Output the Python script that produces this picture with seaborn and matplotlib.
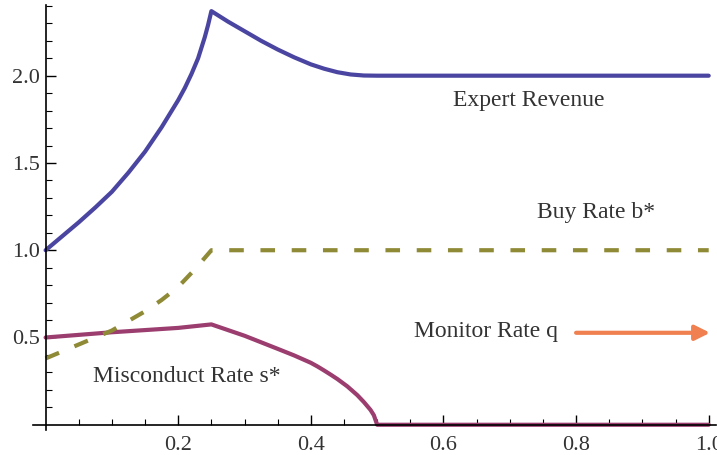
import numpy as np
import pandas as pd
import matplotlib
matplotlib.use("Agg")
import matplotlib.pyplot as plt
import seaborn as sns

# values
rev_x = [0.0, 0.025, 0.05, 0.075, 0.1, 0.125, 0.15, 0.175, 0.2, 0.21, 0.22, 0.23, 0.24,
         0.245, 0.25, 0.275, 0.3, 0.325, 0.35, 0.375, 0.4, 0.42, 0.44, 0.46, 0.48, 0.5, 1.0]
rev_y = [1.0, 1.08, 1.16, 1.245, 1.335, 1.445, 1.565, 1.705, 1.86, 1.93, 2.01, 2.1, 2.22,
         2.29, 2.37, 2.31, 2.255, 2.2, 2.15, 2.105, 2.065, 2.04, 2.02, 2.007, 2.001, 2.0, 2.0]

buy_x = [0.0, 0.05, 0.1, 0.15, 0.175, 0.2, 0.225, 0.25, 1.0]
buy_y = [0.38, 0.46, 0.54, 0.65, 0.715, 0.79, 0.89, 1.0, 1.0]

mis_x = [0.0, 0.1, 0.2, 0.25, 0.3, 0.35, 0.375, 0.4, 0.41, 0.42, 0.43, 0.44, 0.455, 0.47,
         0.48, 0.49, 0.495, 0.5, 1.0]
mis_y = [0.5, 0.53, 0.555, 0.575, 0.51, 0.435, 0.397, 0.355, 0.334, 0.311, 0.287, 0.262,
         0.22, 0.17, 0.13, 0.085, 0.055, 0.0, 0.0]

monitor_x = [0.80, 1.002]
monitor_y = 0.527

labels = ["Expert Revenue", "Buy Rate b*", "Misconduct Rate s*", "Monitor Rate q"]

sns.set_style("white")
plt.rcParams['font.family'] = ['Liberation Serif', 'DejaVu Serif']

fig = plt.figure(figsize=(7.17, 4.55), dpi=100)
ax = fig.add_axes([33 / 717, 25 / 455, 683 / 717, 425 / 455])

sns.lineplot(x=rev_x, y=rev_y, ax=ax, color='#4A45A0', lw=3, sort=False)
sns.lineplot(x=mis_x, y=mis_y, ax=ax, color='#9B3D6E', lw=3, sort=False)
sns.lineplot(x=buy_x, y=buy_y, ax=ax, color='#8F8A35', lw=3, sort=False,
             linestyle=(0, (3.5, 4)))

ax.annotate("", xy=(monitor_x[1], monitor_y), xytext=(monitor_x[0], monitor_y),
            arrowprops=dict(arrowstyle='-|>', color='#F08050', lw=3,
                            mutation_scale=22, shrinkA=0, shrinkB=0))

txt = dict(fontsize=17, color='#333333', ha='center', va='center')
ax.text(0.729, 1.86, labels[0], **txt)
ax.text(0.83, 1.214, labels[1], **txt)
ax.text(0.213, 0.275, labels[2], **txt)
ax.text(0.664, 0.533, labels[3], **txt)

ax.set_xlim(-0.019, 1.011)
ax.set_ylim(-0.03, 2.405)

for s in ['top', 'right']:
    ax.spines[s].set_visible(False)
ax.spines['left'].set_position(('data', 0))
ax.spines['bottom'].set_position(('data', 0))
for s in ['left', 'bottom']:
    ax.spines[s].set_color('black')
    ax.spines[s].set_linewidth(1.2)

ax.set_xticks([0.2, 0.4, 0.6, 0.8, 1.0])
ax.set_xticklabels(['0.2', '0.4', '0.6', '0.8', '1.0'])
ax.set_xticks(np.arange(0.05, 1.01, 0.05), minor=True)
ax.set_yticks([0.5, 1.0, 1.5, 2.0])
ax.set_yticklabels(['0.5', '1.0', '1.5', '2.0'])
ax.set_yticks(np.arange(0.1, 2.41, 0.1), minor=True)
ax.tick_params(which='major', direction='in', length=7, width=1, colors='black',
               labelsize=16, labelcolor='#333333')
ax.tick_params(which='minor', direction='in', length=4, width=0.8, colors='black')
ax.tick_params(axis='x', which='both', bottom=True, pad=8)
ax.tick_params(axis='y', which='both', left=True, pad=4)

fig.savefig("out.png", dpi=100)
